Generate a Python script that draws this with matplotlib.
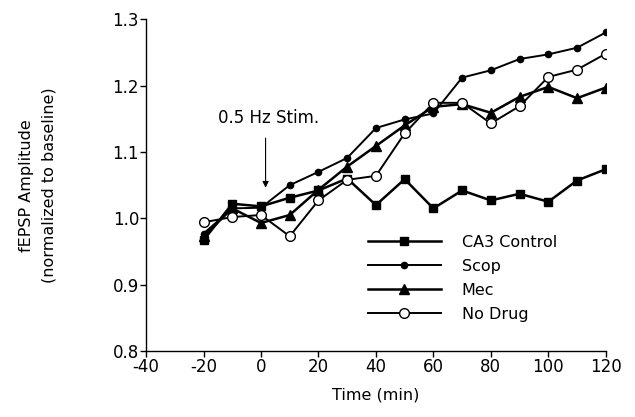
import matplotlib
matplotlib.use("Agg")
import matplotlib.pyplot as plt

time = [-20, -10, 0, 10, 20, 30, 40, 50, 60, 70, 80, 90, 100, 110, 120]
ca3_control = [0.967, 1.022, 1.018, 1.031, 1.042, 1.060, 1.020, 1.059, 1.015, 1.042, 1.027, 1.037, 1.025, 1.057, 1.074]
scop = [0.977, 1.015, 1.016, 1.050, 1.070, 1.091, 1.136, 1.149, 1.158, 1.212, 1.223, 1.240, 1.247, 1.257, 1.280]
mec = [0.973, 1.015, 0.993, 1.005, 1.043, 1.078, 1.109, 1.140, 1.168, 1.172, 1.159, 1.183, 1.198, 1.181, 1.197]
no_drug = [0.994, 1.002, 1.005, 0.973, 1.027, 1.058, 1.064, 1.128, 1.174, 1.174, 1.143, 1.169, 1.213, 1.224, 1.248]

x_ticks = [-40, -20, 0, 20, 40, 60, 80, 100, 120]
y_ticks = [0.8, 0.9, 1.0, 1.1, 1.2, 1.3]

plt.rcParams['font.family'] = ['DejaVu Sans']
plt.rcParams['axes.unicode_minus'] = False

fig = plt.figure(figsize=(6.35, 4.17), dpi=100)
ax = fig.add_axes([0.230, 0.158, 0.724, 0.796])

ax.plot(time, ca3_control, color='black', lw=1.8, marker='s', ms=5.5,
        mfc='black', mec='black', label='CA3 Control')
ax.plot(time, scop, color='black', lw=1.4, marker='o', ms=4.5,
        mfc='black', mec='black', label='Scop')
ax.plot(time, mec, color='black', lw=1.8, marker='^', ms=6.5,
        mfc='black', mec='black', label='Mec')
ax.plot(time, no_drug, color='black', lw=1.4, marker='o', ms=7,
        mfc='white', mec='black', mew=1.0, label='No Drug')

ax.set_xlim(-40, 120)
ax.set_ylim(0.8, 1.3)
ax.set_xticks(x_ticks)
ax.set_yticks(y_ticks)
ax.set_yticklabels([f"{v:.1f}" for v in y_ticks])
ax.spines['top'].set_visible(False)
ax.spines['right'].set_visible(False)
for s in ('left', 'bottom'):
    ax.spines[s].set_linewidth(1.0)
ax.tick_params(direction='out', length=4, width=1.0, labelsize=12, pad=1)

ax.set_xlabel('Time (min)', fontsize=11.5, labelpad=8)
ax.set_ylabel('fEPSP Amplitude\n(normalized to baseline)', fontsize=11.5, linespacing=1.65)
ax.yaxis.label.set_va('center')
ax.yaxis.set_label_coords(-0.236, 0.5)

ax.annotate('', xy=(1.6, 1.042), xytext=(1.6, 1.125),
            arrowprops=dict(arrowstyle='-|>', color='black', lw=0.8, mutation_scale=9))
ax.text(2.5, 1.151, '0.5 Hz Stim.', fontsize=12, ha='center', va='center')

leg = ax.legend(loc='upper left', bbox_to_anchor=(0.468, 0.37), frameon=False,
                fontsize=11.5, handlelength=4.6, handletextpad=1.3, labelspacing=0.56,
                borderaxespad=0)

fig.savefig('out.png', dpi=100)
